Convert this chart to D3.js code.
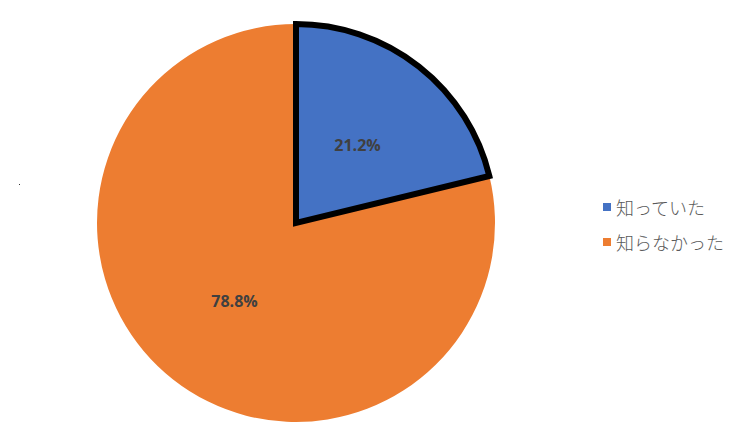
<!DOCTYPE html>
<html><head><meta charset="utf-8">
<script src="https://cdn.jsdelivr.net/npm/d3@7"></script>
<style>body{margin:0;background:#fff;}svg{display:block;}</style>
</head><body>
<svg id="c" width="750" height="447"></svg>
<script>
const categories = ["知っていた", "知らなかった"];
const values = [21.2, 78.8];
const labels = ["21.2%", "78.8%"];
const colors = ["#4472C4", "#ED7D31"];

const svg = d3.select("#c");
const cx = 296, cy = 223, r = 199;
const g = svg.append("g").attr("transform", `translate(${cx},${cy})`);
const pie = d3.pie().sort(null).value(d => d)(values);
const arc = d3.arc().innerRadius(0).outerRadius(r);

// draw orange first, then blue with thick border on top
const order = [1, 0];
order.forEach(i => {
  g.append("path").attr("d", arc(pie[i]))
    .attr("fill", colors[i])
    .attr("stroke", i === 0 ? "#000" : "none")
    .attr("stroke-width", i === 0 ? 6 : 0)
    .attr("stroke-linejoin", "miter");
});
pie.forEach((p, i) => {
  const c = arc.centroid(p);
  g.append("text").attr("x", c[0]).attr("y", c[1])
    .attr("text-anchor", "middle").attr("dominant-baseline", "central")
    .attr("font-family", "'Open Sans', 'Noto Sans', sans-serif")
    .attr("font-weight", "bold").attr("font-size", 16)
    .attr("fill", "#404040").text(labels[i]);
});

// small stray dot
svg.append("rect").attr("x", 19).attr("y", 184).attr("width", 1).attr("height", 1).attr("fill", "#333");

// legend
const lg = svg.append("g").attr("transform", "translate(603,207)");
categories.forEach((c, i) => {
  const row = lg.append("g").attr("transform", `translate(0,${i * 35})`);
  row.append("rect").attr("x", 0).attr("y", -4).attr("width", 8).attr("height", 8).attr("fill", colors[i]);
  row.append("text").attr("x", 13).attr("y", 0).attr("dominant-baseline", "central")
    .attr("font-family", "'Noto Sans CJK JP', sans-serif").attr("font-size", 18)
    .attr("font-weight", 300)
    .attr("fill", "#595959").text(c);
});
</script>
</body></html>
